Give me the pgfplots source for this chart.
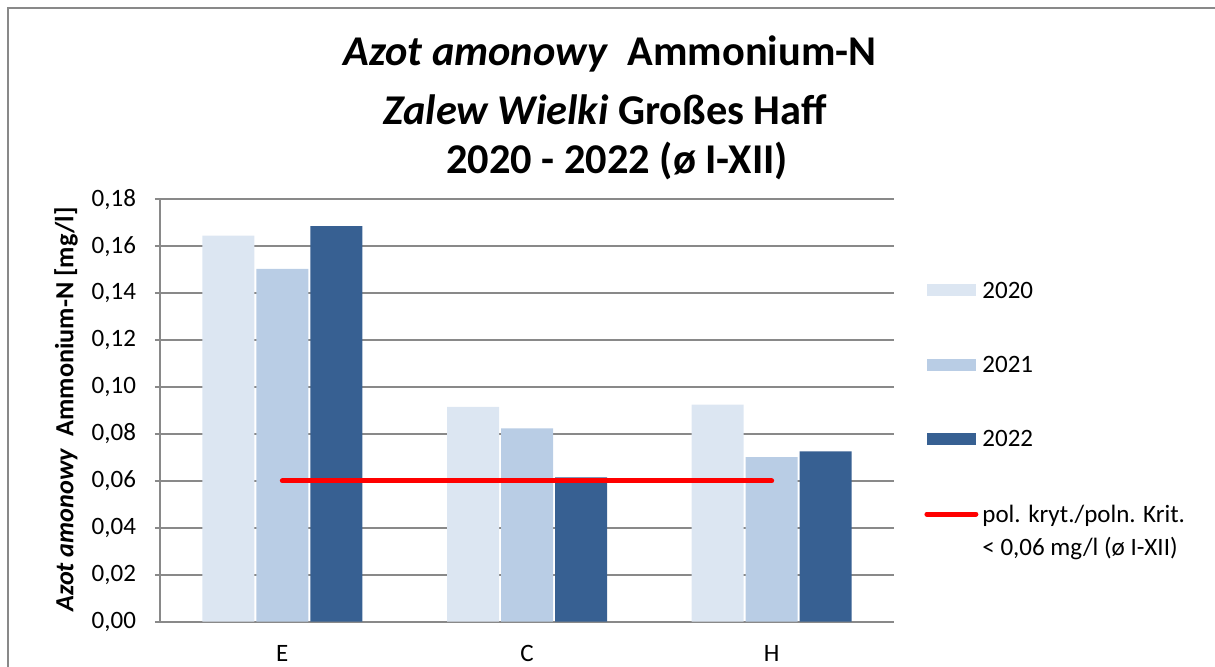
\documentclass[border=0pt]{standalone}
\usepackage{fontspec}
\setmainfont{Carlito}
\usepackage{pgfplots}
\pgfplotsset{compat=1.18}

\definecolor{barA}{HTML}{DCE6F2}
\definecolor{barB}{HTML}{B9CDE5}
\definecolor{barC}{HTML}{376092}
\definecolor{gridgray}{HTML}{898989}

\begin{document}
\begin{tikzpicture}[x=1pt,y=1pt]
\useasboundingbox (0,0) rectangle (607.5,333);
% chart frame (cut at right and bottom in the reference)
\draw[gridgray, line width=0.9pt] (4,-10) -- (4,329) -- (620,329);
% title
\begin{scope}[every node/.style={font=\fontsize{21.2}{25}\selectfont\bfseries, anchor=base, inner sep=0pt}]
\node at (305,300.3) {\textit{Azot amonowy}\ \ Ammonium-N};
\node at (302.5,270.6) {\textit{Zalew Wielki} Großes Haff};
\node at (308.5,246.4) {2020 - 2022 (ø I-XII)};
\end{scope}

\begin{axis}[
    at={(80pt,22.15pt)}, anchor=south west,
    scale only axis, width=367pt, height=211.2pt,
    xmin=-0.5, xmax=2.5,
    ymin=0, ymax=0.18,
    xtick={0,1,2}, xticklabels={E,C,H},
    ytick={0,0.02,0.04,0.06,0.08,0.10,0.12,0.14,0.16,0.18},
    axis x line*=bottom, axis y line*=left,
    axis line style={gridgray, line width=0.9pt, -},
    ymajorgrids, grid style={gridgray, line width=0.9pt},
    tick align=outside,
    major tick length=2.5pt,
    ytick style={gridgray, line width=0.9pt},
    xtick style={draw=none},
    /pgf/number format/assume math mode=true,
    /pgf/number format/fixed,
    /pgf/number format/fixed zerofill,
    /pgf/number format/precision=2,
    /pgf/number format/use comma,
    tick label style={font=\fontsize{12.5}{15}\selectfont},
    yticklabel style={xshift=-6pt},
    xticklabel style={anchor=base, yshift=-17.25pt},
    ylabel={\textit{Azot amonowy}\ \ Ammonium-N [mg/l]},
    ylabel style={font=\fontsize{13.1}{15}\selectfont\bfseries, at={(axis description cs:-0.128,0.502)}, anchor=center},
    legend style={at={(axis description cs:1.0409,0.8145)}, anchor=north west,
        draw=none, fill=none, inner sep=0pt, row sep=23.5pt,
        font=\fontsize{12.5}{16.5}\selectfont, cells={align=left, anchor=base west}},
]
\addplot[ybar, bar width=26pt, bar shift=-27pt, fill=barA, draw=none,
    legend image code/.code={\fill (0pt,1pt) rectangle (24.5pt,7pt);}]
    coordinates {(0,0.1645) (1,0.0916) (2,0.0925)};
\addlegendentry{2020}
\addplot[ybar, bar width=26pt, bar shift=0pt, fill=barB, draw=none,
    legend image code/.code={\fill (0pt,1pt) rectangle (24.5pt,7pt);}]
    coordinates {(0,0.1504) (1,0.0824) (2,0.0701)};
\addlegendentry{2021}
\addplot[ybar, bar width=26pt, bar shift=27pt, fill=barC, draw=none,
    legend image code/.code={\fill (0pt,1pt) rectangle (24.5pt,7pt);}]
    coordinates {(0,0.1686) (1,0.0615) (2,0.0726)};
\addlegendentry{2022}
\addplot[red, line width=2.5pt, line cap=round, mark=none,
    legend image code/.code={\draw[line width=2.5pt, line cap=round] (0pt,20.5pt) -- (24.5pt,20.5pt);}]
    coordinates {(0,0.06) (1,0.06) (2,0.06)};
\addlegendentry{pol. kryt./poln. Krit.\\< 0,06 mg/l (ø I-XII)}
\end{axis}
\end{tikzpicture}
\end{document}
